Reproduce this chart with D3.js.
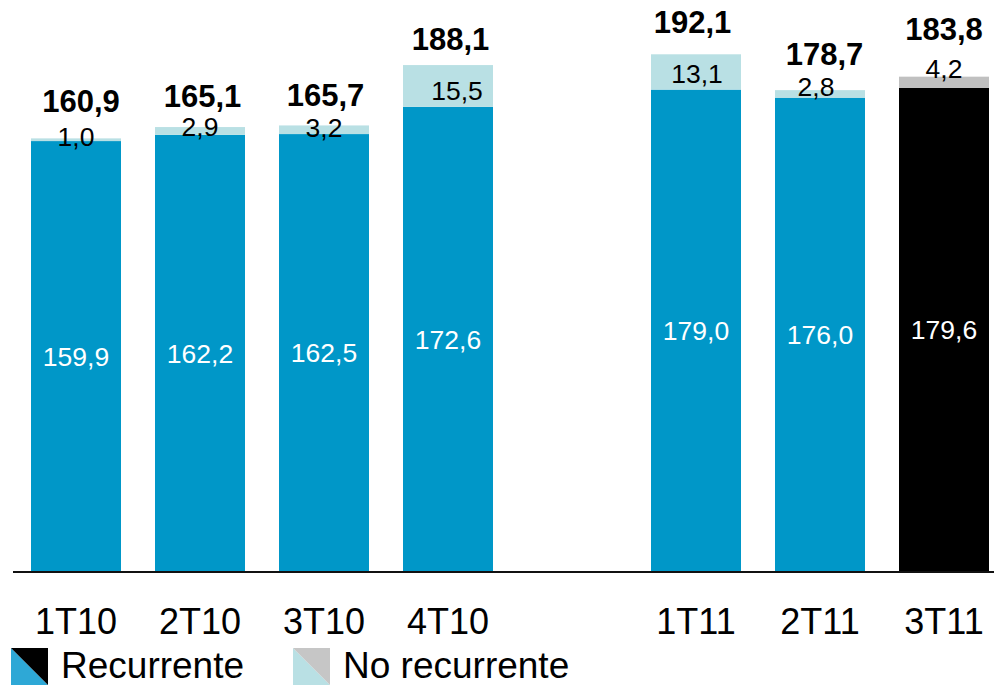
<!DOCTYPE html>
<html>
<head>
<meta charset="utf-8">
<script src="https://cdn.jsdelivr.net/npm/d3@7"></script>
<style>
  html, body { margin: 0; padding: 0; background: #fff; }
  svg { display: block; font-family: "Liberation Sans", Arial, sans-serif; }
</style>
</head>
<body>
<svg id="chart" width="994" height="687"></svg>
<script>
// Quarterly figures: recurring and non-recurring parts, with the stated totals
const quarters = ["1T10", "2T10", "3T10", "4T10", "1T11", "2T11", "3T11"];
const recurrente = [159.9, 162.2, 162.5, 172.6, 179.0, 176.0, 179.6];
const noRecurrente = [1.0, 2.9, 3.2, 15.5, 13.1, 2.8, 4.2];
const totales = [160.9, 165.1, 165.7, 188.1, 192.1, 178.7, 183.8];
const legendLabels = ["Recurrente", "No recurrente"];

const fmt = v => v.toFixed(1).replace(".", ",");

// Band slots: an empty slot separates the two years
const slots = ["1T10", "2T10", "3T10", "4T10", "_gap", "1T11", "2T11", "3T11"];

const svg = d3.select("#chart");
const W = 994;
const baseY = 572;

const x = d3.scaleBand()
  .domain(slots)
  .range([14, 1006])
  .paddingInner(34 / 124)
  .paddingOuter(17 / 124);

const y = d3.scaleLinear().domain([0, 200]).range([baseY, 33]);

const rows = quarters.map((q, i) => ({
  q, i,
  rec: recurrente[i],
  nr: noRecurrente[i],
  total: totales[i],
  last: i === quarters.length - 1
}));

const colors = {
  rec: "#0097C8",
  nr: "#B9E0E4",
  recLast: "#000000",
  nrLast: "#C0C0C0"
};

// Label fine-tuning: [dx, dy] for the small segment labels and the totals
const segNudge = [[0, -3], [0, -4], [0, -2], [9, 5], [1, 2], [-4, -7.5], [0, -13.4]];
const totalGap = [26.4, 20, 19.4, 15.1, 21.3, 25.4, 36.7];
const totalDx = [5, 2.5, 1.5, 2.5, -3.5, 4.5, 0];

const g = svg.append("g");

// Recurring segment
g.selectAll("rect.rec").data(rows).join("rect")
  .attr("class", "rec")
  .attr("x", d => x(d.q))
  .attr("width", x.bandwidth())
  .attr("y", d => y(d.rec))
  .attr("height", d => y(0) - y(d.rec))
  .attr("fill", d => d.last ? colors.recLast : colors.rec);

// Non-recurring segment stacked on top
g.selectAll("rect.nr").data(rows).join("rect")
  .attr("class", "nr")
  .attr("x", d => x(d.q))
  .attr("width", x.bandwidth())
  .attr("y", d => y(d.rec + d.nr))
  .attr("height", d => y(d.rec) - y(d.rec + d.nr))
  .attr("fill", d => d.last ? colors.nrLast : colors.nr);

// Baseline
svg.append("line")
  .attr("x1", 13).attr("x2", W)
  .attr("y1", baseY).attr("y2", baseY)
  .attr("stroke", "#111").attr("stroke-width", 2);

// Values inside the recurring segment
g.selectAll("text.recLbl").data(rows).join("text")
  .attr("class", "recLbl")
  .attr("x", d => x(d.q) + x.bandwidth() / 2)
  .attr("y", d => (y(d.rec) + y(0)) / 2 + 9.3)
  .attr("text-anchor", "middle")
  .attr("font-size", 26.5)
  .attr("fill", "#fff")
  .text(d => fmt(d.rec));

// Values of the non-recurring segment
g.selectAll("text.nrLbl").data(rows).join("text")
  .attr("class", "nrLbl")
  .attr("x", d => x(d.q) + x.bandwidth() / 2 + segNudge[d.i][0])
  .attr("y", d => (y(d.rec) + y(d.rec + d.nr)) / 2 + segNudge[d.i][1] + 9.3)
  .attr("text-anchor", "middle")
  .attr("font-size", 26.5)
  .attr("fill", "#000")
  .text(d => fmt(d.nr));

// Totals above each bar
g.selectAll("text.totLbl").data(rows).join("text")
  .attr("class", "totLbl")
  .attr("x", d => x(d.q) + x.bandwidth() / 2 + totalDx[d.i])
  .attr("y", d => y(d.total) - totalGap[d.i])
  .attr("text-anchor", "middle")
  .attr("font-size", 31)
  .attr("font-weight", "bold")
  .attr("fill", "#000")
  .text(d => fmt(d.total));

// Category axis (labels only)
const xAxis = d3.axisBottom(x)
  .tickValues(quarters)
  .tickSize(0)
  .tickPadding(0);

const ax = svg.append("g")
  .attr("transform", `translate(0, ${634})`)
  .call(xAxis);
ax.select(".domain").remove();
ax.selectAll("text")
  .attr("y", 0)
  .attr("dy", 0)
  .attr("font-size", 36)
  .attr("font-family", "'Liberation Sans', Arial, sans-serif")
  .attr("fill", "#000");

// Legend with split swatches
const legendItems = [
  { label: legendLabels[0], lower: "#2EA8D6", upper: "#000000", x: 11 },
  { label: legendLabels[1], lower: "#B9E0E4", upper: "#C6C6C6", x: 293 }
];
const sw = 37, swY = 648;
const lg = svg.append("g");
legendItems.forEach(it => {
  lg.append("path")
    .attr("d", `M${it.x},${swY} L${it.x + sw},${swY + sw} L${it.x},${swY + sw} Z`)
    .attr("fill", it.lower);
  lg.append("path")
    .attr("d", `M${it.x},${swY} L${it.x + sw},${swY} L${it.x + sw},${swY + sw} Z`)
    .attr("fill", it.upper);
  lg.append("text")
    .attr("x", it.x + sw + 13)
    .attr("y", 678)
    .attr("font-size", 37)
    .attr("fill", "#000")
    .text(it.label);
});
</script>
</body>
</html>
